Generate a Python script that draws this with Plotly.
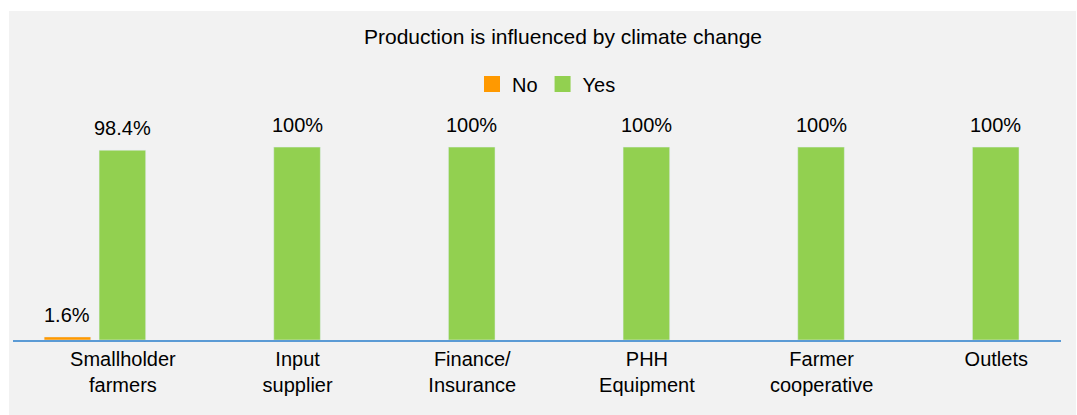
import plotly.graph_objects as go

# ---- data ----
categories = ["Smallholder farmers", "Input supplier", "Finance/Insurance",
              "PHH Equipment", "Farmer cooperative", "Outlets"]
tick_labels = ["Smallholder<br>farmers", "Input<br>supplier", "Finance/<br>Insurance",
               "PHH<br>Equipment", "Farmer<br>cooperative", "Outlets"]
no_values = [1.6, None, None, None, None, None]
yes_values = [98.4, 100, 100, 100, 100, 100]
no_labels = ["1.6%", "", "", "", "", ""]
yes_labels = ["98.4%", "100%", "100%", "100%", "100%", "100%"]
series_names = ["No", "Yes"]
title_text = "Production is influenced by climate change"

FONT = "Liberation Sans, Arial, Helvetica, sans-serif"
ORANGE = "#ff9900"
GREEN = "#92d050"

W, H = 1077, 415
ML, MR, MT, MB = 13, 16, 100, 75
plot_w = W - ML - MR
plot_h = H - MT - MB

fig = go.Figure()
for name, vals, col in ((series_names[0], no_values, ORANGE),
                        (series_names[1], yes_values, GREEN)):
    fig.add_trace(go.Bar(name=name, x=categories, y=vals, marker_color=col,
                         legendgroup=name, showlegend=False, hoverinfo="x+y"))
# legend entries (larger square swatches, like the original)
for name, col in ((series_names[0], ORANGE), (series_names[1], GREEN)):
    fig.add_trace(go.Scatter(name=name, x=[None], y=[None], mode="markers",
                             legendgroup=name, showlegend=True, hoverinfo="skip",
                             marker=dict(symbol="square", size=16, color=col)))

bargap = 0.371
cat_px = plot_w / 6.0
slot_px = (1 - bargap) * cat_px / 2.0

annotations = []
for vals, labs, sign in ((no_values, no_labels, -1), (yes_values, yes_labels, 1)):
    for c, v, t in zip(categories, vals, labs):
        if v is None or not t:
            continue
        annotations.append(dict(
            x=c, y=v, xref="x", yref="y", text=t, showarrow=False,
            xanchor="center", yanchor="bottom", xshift=sign * slot_px / 2.0,
            yshift=9, font=dict(family=FONT, size=20, color="#000000")))

# grey chart panel behind everything
px = lambda v: (v - ML) / plot_w
py = lambda v: (H - MB - v) / plot_h
shapes = [dict(type="rect", xref="paper", yref="paper",
               x0=px(9), x1=px(1076), y0=py(416), y1=py(11),
               fillcolor="#f2f2f2", line=dict(width=0), layer="below")]

fig.update_layout(
    width=W, height=H,
    margin=dict(l=ML, r=MR, t=MT, b=MB, pad=0),
    paper_bgcolor="#ffffff",
    plot_bgcolor="rgba(0,0,0,0)",
    barmode="group", bargap=bargap, bargroupgap=0.151,
    font=dict(family=FONT, size=20, color="#000000"),
    title=dict(text=title_text, x=563 / W, xref="container", xanchor="center",
               y=1 - 37 / H, yref="container", yanchor="middle",
               font=dict(family=FONT, size=21, color="#000000")),
    showlegend=True,
    legend=dict(orientation="h", x=px(472), xanchor="left", y=py(84), yanchor="middle",
                font=dict(family=FONT, size=20, color="#000000"),
                bgcolor="rgba(0,0,0,0)", itemclick=False, itemdoubleclick=False,
                traceorder="normal"),
    shapes=shapes,
    annotations=annotations,
)

fig.update_xaxes(type="category", range=[-0.469, 5.531], tickvals=categories,
                 ticktext=tick_labels, showgrid=False, zeroline=False,
                 showline=True, linecolor="#5b9bd5", linewidth=2, ticks="",
                 ticklabelshift=28, ticklabelstandoff=0,
                 tickfont=dict(family=FONT, size=20, color="#000000"),
                 fixedrange=True)
fig.update_yaxes(range=[0, 124.4], showgrid=False, zeroline=False, showline=False,
                 showticklabels=False, ticks="", fixedrange=True)

fig.write_html("out.html", config={"displayModeBar": False},
               post_script="document.body.style.margin='0';"
                           "document.documentElement.style.overflow='hidden';")
